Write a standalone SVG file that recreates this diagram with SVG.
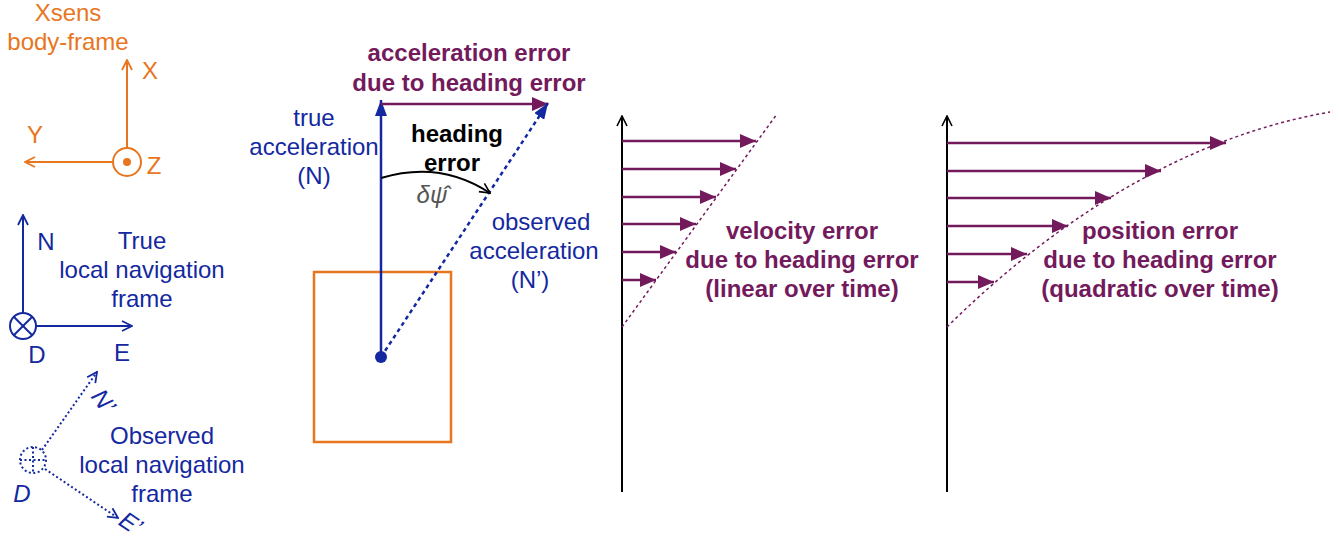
<svg xmlns="http://www.w3.org/2000/svg" width="1339" height="544" viewBox="0 0 1339 544">
<style>
text{font-family:"Liberation Sans",Arial,sans-serif;font-size:24px;text-anchor:middle}
.or{fill:#E8761E}
.bl{fill:#1428A0}
.pu{fill:#731A5C;font-weight:bold}
.bk{fill:#000;font-weight:bold}
.orl{stroke:#E8761E;stroke-width:2;fill:none}
.bll{stroke:#1428A0;stroke-width:2;fill:none}
.dot{stroke-dasharray:2 2.5}
.pul{stroke:#731A5C;stroke-width:2.5;fill:none}
.kl{stroke:#000;stroke-width:2;fill:none}
</style>
<defs>
<marker id="oo" viewBox="0 0 12 12" refX="11" refY="6" markerWidth="12" markerHeight="12" markerUnits="userSpaceOnUse" orient="auto"><path d="M1,1 L11,6 L1,11" fill="none" stroke="#E8761E" stroke-width="1.8"/></marker>
<marker id="ob" viewBox="0 0 12 12" refX="11" refY="6" markerWidth="12" markerHeight="12" markerUnits="userSpaceOnUse" orient="auto"><path d="M1,1 L11,6 L1,11" fill="none" stroke="#1428A0" stroke-width="1.8"/></marker>
<marker id="ok" viewBox="0 0 12 12" refX="11" refY="6" markerWidth="12" markerHeight="12" markerUnits="userSpaceOnUse" orient="auto"><path d="M1,1 L11,6 L1,11" fill="none" stroke="#000" stroke-width="1.6"/></marker>
<marker id="fb" viewBox="0 0 16 12" refX="16" refY="6" markerWidth="16" markerHeight="12" markerUnits="userSpaceOnUse" orient="auto"><path d="M0,0 L16,6 L0,12 Z" fill="#1428A0"/></marker>
<marker id="fp" viewBox="0 0 16 14" refX="16" refY="7" markerWidth="16" markerHeight="14" markerUnits="userSpaceOnUse" orient="auto"><path d="M0,0 L16,7 L0,14 Z" fill="#731A5C"/></marker>
</defs>

<g id="body-frame">
<text class="or" x="68" y="21">Xsens</text>
<text class="or" x="68" y="50">body-frame</text>
<line class="orl" x1="127" y1="148" x2="127" y2="60" marker-end="url(#oo)"/>
<line class="orl" x1="113" y1="162" x2="25" y2="162" marker-end="url(#oo)"/>
<circle class="orl" cx="127" cy="162" r="14"/>
<circle cx="127" cy="162" r="4" fill="#E8761E"/>
<text class="or" x="150" y="79">X</text>
<text class="or" x="35" y="143">Y</text>
<text class="or" x="154" y="174">Z</text>
</g>

<g id="true-frame">
<line class="bll" x1="23" y1="313" x2="23" y2="215" marker-end="url(#ob)"/>
<line class="bll" x1="36" y1="326" x2="132" y2="326" marker-end="url(#ob)"/>
<circle class="bll" cx="23" cy="326" r="13"/>
<line class="bll" x1="14" y1="317" x2="32" y2="335"/>
<line class="bll" x1="32" y1="317" x2="14" y2="335"/>
<text class="bl" x="46" y="250">N</text>
<text class="bl" x="37" y="363">D</text>
<text class="bl" x="122" y="361">E</text>
<text class="bl" x="142" y="249">True</text>
<text class="bl" x="142" y="278">local navigation</text>
<text class="bl" x="142" y="307">frame</text>
</g>

<g id="observed-frame">
<circle class="bll dot" cx="33" cy="460" r="13" stroke-width="1.5"/>
<line class="bll dot" x1="33" y1="447" x2="33" y2="473" stroke-width="1.5"/>
<line class="bll dot" x1="20" y1="460" x2="46" y2="460" stroke-width="1.5"/>
<line class="bll dot" x1="42" y1="450" x2="97" y2="372" stroke-width="1.5" marker-end="url(#ob)"/>
<line class="bll dot" x1="45" y1="469" x2="118" y2="518" stroke-width="1.5" marker-end="url(#ob)"/>
<text class="bl" x="0" y="0" font-style="italic" transform="translate(97,406) rotate(54)">N’</text>
<text class="bl" x="22" y="502" font-style="italic">D</text>
<text class="bl" x="0" y="0" font-style="italic" transform="translate(126,530) rotate(34)">E’</text>
<text class="bl" x="162" y="444">Observed</text>
<text class="bl" x="162" y="473">local navigation</text>
<text class="bl" x="162" y="502">frame</text>
</g>

<g id="sensor">
<rect x="314" y="272" width="137" height="170" fill="none" stroke="#E8761E" stroke-width="2.5"/>
<circle cx="381" cy="357" r="6" fill="#1428A0"/>
</g>

<g id="labels-center">
<text class="pu" x="469" y="61">acceleration error</text>
<text class="pu" x="469" y="91">due to heading error</text>
<text class="bl" x="314" y="126">true</text>
<text class="bl" x="314" y="155">acceleration</text>
<text class="bl" x="314" y="184">(N)</text>
<text class="bk" x="457" y="142">heading</text>
<text class="bk" x="452" y="171">error</text>
<text x="432" y="203" font-family="'Liberation Serif',serif" font-style="italic" font-size="26" fill="#555">δψ̂</text>
<text class="bl" x="541" y="230">observed</text>
<text class="bl" x="534" y="259">acceleration</text>
<text class="bl" x="530" y="288">(N’)</text>
</g>

<g id="velocity-graph">
<line class="kl" x1="622" y1="492" x2="622" y2="116" marker-end="url(#ok)"/>
<text class="pu" x="802" y="239">velocity error</text>
<text class="pu" x="802" y="268">due to heading error</text>
<text class="pu" x="802" y="297">(linear over time)</text>
</g>

<g id="position-graph">
<line class="kl" x1="947" y1="492" x2="947" y2="116" marker-end="url(#ok)"/>
<text class="pu" x="1160" y="239">position error</text>
<text class="pu" x="1160" y="268">due to heading error</text>
<text class="pu" x="1160" y="297">(quadratic over time)</text>
</g>

<g id="connectors">
<line stroke="#1428A0" stroke-width="2.5" x1="381" y1="352" x2="381" y2="100" marker-end="url(#fb)"/>
<line class="pul" x1="381" y1="104" x2="548" y2="104" marker-end="url(#fp)"/>
<line stroke="#1428A0" stroke-width="2.5" stroke-dasharray="4 3.5" x1="381" y1="357" x2="548" y2="103" marker-end="url(#fb)"/>
<path class="kl" stroke-width="1.5" d="M381,178 Q440,160 490,193" marker-end="url(#ok)"/>
<g class="pul" stroke-width="2" marker-end="url(#fp)">
<line x1="622" y1="141" x2="756" y2="141"/>
<line x1="622" y1="169" x2="736" y2="169"/>
<line x1="622" y1="197" x2="716" y2="197"/>
<line x1="622" y1="224" x2="696" y2="224"/>
<line x1="622" y1="252" x2="676" y2="252"/>
<line x1="622" y1="280" x2="656" y2="280"/>
<line x1="947" y1="143" x2="1226" y2="143"/>
<line x1="947" y1="171" x2="1161" y2="171"/>
<line x1="947" y1="198" x2="1111" y2="198"/>
<line x1="947" y1="226" x2="1068" y2="226"/>
<line x1="947" y1="254" x2="1027" y2="254"/>
<line x1="947" y1="282" x2="994" y2="282"/>
</g>
<line stroke="#731A5C" stroke-width="1.5" stroke-dasharray="3 3" x1="622" y1="327" x2="777" y2="114"/>
<path stroke="#731A5C" stroke-width="1.5" stroke-dasharray="3 3" fill="none" d="M947,327 C1040,235 1170,140 1330,112"/>
</g>
</svg>
